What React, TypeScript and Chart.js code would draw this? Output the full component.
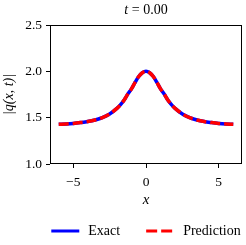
import { useEffect, useRef } from 'react';
import { Chart, registerables } from 'chart.js';

Chart.register(...registerables);

const xValues = [-6, -5.5, -5, -4.5, -4, -3.5, -3, -2.5, -2, -1.75, -1.5, -1.25, -1, -0.75, -0.5, -0.25, 0, 0.25, 0.5, 0.75, 1, 1.25, 1.5, 1.75, 2, 2.5, 3, 3.5, 4, 4.5, 5, 5.5, 6];
const exactValues = [1.428, 1.432, 1.438, 1.447, 1.458, 1.475, 1.5, 1.54, 1.6, 1.64, 1.69, 1.755, 1.81, 1.88, 1.945, 1.985, 2.0, 1.985, 1.945, 1.88, 1.81, 1.755, 1.69, 1.64, 1.6, 1.54, 1.5, 1.475, 1.458, 1.447, 1.438, 1.432, 1.428];
const predictionValues = [1.428, 1.432, 1.438, 1.447, 1.458, 1.475, 1.5, 1.54, 1.6, 1.64, 1.69, 1.755, 1.81, 1.88, 1.945, 1.985, 2.0, 1.985, 1.945, 1.88, 1.81, 1.755, 1.69, 1.64, 1.6, 1.54, 1.5, 1.475, 1.458, 1.447, 1.438, 1.432, 1.428];
const xTicks = [-5, 0, 5];
const yTicks = [1.0, 1.5, 2.0, 2.5];
const seriesNames = ['Exact', 'Prediction'];
const titleVar = 't';
const titleRest = ' = 0.00';
const xTitle = 'x';
const yTitle = '|q(x, t)|';

const FONT = '"Liberation Serif", "Times New Roman", serif';

const framePlugin = {
  id: 'frame',
  afterDatasetsDraw(chart: any) {
    const { ctx, chartArea: a } = chart;
    ctx.save();
    ctx.strokeStyle = '#000';
    ctx.lineWidth = 1;
    const l = Math.round(a.left) + 0.5;
    const t = Math.round(a.top) + 0.5;
    const r = Math.round(a.right) - 0.5;
    const b = Math.round(a.bottom) - 0.5;
    ctx.strokeRect(l, t, r - l, b - t);
    ctx.restore();
  },
};

const titlePlugin = {
  id: 'mixedTitle',
  afterDraw(chart: any) {
    const { ctx, chartArea: a } = chart;
    ctx.save();
    ctx.fillStyle = '#000';
    ctx.textBaseline = 'middle';
    ctx.textAlign = 'left';
    const fi = `italic 14px ${FONT}`;
    const fn = `14px ${FONT}`;
    ctx.font = fi;
    const w1 = ctx.measureText(titleVar).width;
    ctx.font = fn;
    const w2 = ctx.measureText(titleRest).width;
    const cx = (a.left + a.right) / 2;
    const x0 = cx - (w1 + w2) / 2;
    ctx.font = fi;
    ctx.fillText(titleVar, x0, 10);
    ctx.font = fn;
    ctx.fillText(titleRest, x0 + w1, 10);
    ctx.restore();
  },
};

const legendPlugin = {
  id: 'customLegend',
  afterDraw(chart: any) {
    const { ctx, chartArea: a } = chart;
    const ds = chart.data.datasets;
    ctx.save();
    ctx.font = `14px ${FONT}`;
    ctx.textBaseline = 'middle';
    ctx.textAlign = 'left';
    const lineLen = 28;
    const gap = 9;
    const spacing = 26;
    const widths = ds.map((d: any) => ctx.measureText(d.label).width);
    let total = 0;
    widths.forEach((w: number, i: number) => {
      total += lineLen + gap + w + (i < widths.length - 1 ? spacing : 0);
    });
    let x = (a.left + a.right) / 2 - total / 2;
    const y = 231;
    ds.forEach((d: any, i: number) => {
      ctx.beginPath();
      ctx.strokeStyle = d.borderColor;
      ctx.lineWidth = 3;
      ctx.setLineDash(d.borderDash && d.borderDash.length ? [11, 4] : []);
      ctx.moveTo(x, y);
      ctx.lineTo(x + lineLen, y);
      ctx.stroke();
      ctx.setLineDash([]);
      ctx.fillStyle = '#000';
      ctx.fillText(d.label, x + lineLen + gap, y + 0.5);
      x += lineLen + gap + widths[i] + spacing;
    });
    ctx.restore();
  },
};

export default function App() {
  const ref = useRef<HTMLCanvasElement | null>(null);
  useEffect(() => {
    if (!ref.current) return;
    const chart = new Chart(ref.current, {
      type: 'line',
      data: {
        datasets: [
          {
            label: seriesNames[0],
            data: xValues.map((x, i) => ({ x, y: exactValues[i] })),
            borderColor: '#0000ff',
            borderWidth: 3.5,
            pointRadius: 0,
            fill: false,
            order: 1,
            cubicInterpolationMode: 'monotone',
          },
          {
            label: seriesNames[1],
            data: xValues.map((x, i) => ({ x, y: predictionValues[i] })),
            borderColor: '#ff0000',
            borderWidth: 3.5,
            borderDash: [10, 4],
            pointRadius: 0,
            fill: false,
            order: 0,
            cubicInterpolationMode: 'monotone',
          },
        ],
      },
      options: {
        animation: false,
        responsive: false,
        maintainAspectRatio: false,
        events: [],
        layout: { padding: { top: 25, right: 4, bottom: 30, left: 0 } },
        plugins: { legend: { display: false }, title: { display: false }, tooltip: { enabled: false } },
        scales: {
          x: {
            type: 'linear',
            min: -6.6,
            max: 6.6,
            afterBuildTicks: (s: any) => { s.ticks = xTicks.map((v) => ({ value: v })); },
            afterFit: (s: any) => { s.height = 51; },
            border: { display: false },
            grid: { display: true, drawOnChartArea: false, drawTicks: true, tickLength: 4, tickColor: '#000', lineWidth: 1 },
            ticks: {
              color: '#000',
              padding: 6,
              maxRotation: 0,
              font: { family: FONT, size: 13.5 },
              callback: (v: any) => String(v).replace('-', '\u2212'),
            },
            title: { display: true, text: xTitle, color: '#000', font: { family: FONT, size: 15, style: 'italic' }, padding: { top: 0, bottom: 6 } },
          },
          y: {
            type: 'linear',
            min: 1.0,
            max: 2.5,
            afterBuildTicks: (s: any) => { s.ticks = yTicks.map((v) => ({ value: v })); },
            afterFit: (s: any) => { s.width = 50; },
            border: { display: false },
            grid: { display: true, drawOnChartArea: false, drawTicks: true, tickLength: 4, tickColor: '#000', lineWidth: 1 },
            ticks: {
              color: '#000',
              padding: 4,
              font: { family: FONT, size: 13.5 },
              callback: (v: any) => Number(v).toFixed(1),
            },
            title: { display: true, text: yTitle, color: '#000', font: { family: FONT, size: 14, style: 'italic' }, padding: { top: 1, bottom: 0 } },
          },
        },
      },
      plugins: [framePlugin, titlePlugin, legendPlugin],
    } as any);
    return () => chart.destroy();
  }, []);
  return (
    <div style={{ position: 'fixed', left: 0, top: 0, width: 246, height: 245, background: '#fff' }}>
      <canvas ref={ref} width={246} height={245} style={{ display: 'block', width: 246, height: 245 }} />
    </div>
  );
}
